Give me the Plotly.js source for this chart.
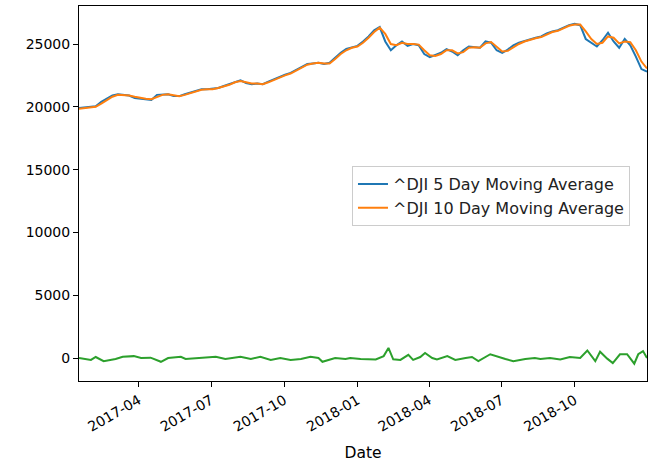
<!DOCTYPE html>
<html>
<head>
<meta charset="utf-8">
<script src="https://cdn.plot.ly/plotly-3.0.1.min.js"></script>
<style>html,body{margin:0;padding:0;background:#fff;}#chart{width:654px;height:466px;}</style>
</head>
<body>
<div id="chart"></div>
<script>
const dates = [
"2017-01-16","2017-01-23","2017-01-30","2017-02-06","2017-02-13","2017-02-20","2017-02-27","2017-03-06","2017-03-13","2017-03-20",
"2017-03-27","2017-04-03","2017-04-10","2017-04-17","2017-04-24","2017-05-01","2017-05-08","2017-05-15","2017-05-22","2017-05-29",
"2017-06-05","2017-06-12","2017-06-19","2017-06-26","2017-07-03","2017-07-10","2017-07-17","2017-07-24","2017-07-31","2017-08-07",
"2017-08-14","2017-08-21","2017-08-28","2017-09-04","2017-09-11","2017-09-18","2017-09-25","2017-10-02","2017-10-09","2017-10-16",
"2017-10-23","2017-10-30","2017-11-06","2017-11-13","2017-11-20","2017-11-27","2017-12-04","2017-12-11","2017-12-18","2017-12-25",
"2018-01-01","2018-01-08","2018-01-15","2018-01-22","2018-01-29","2018-02-05","2018-02-12","2018-02-19","2018-02-26","2018-03-05",
"2018-03-12","2018-03-19","2018-03-26","2018-04-02","2018-04-09","2018-04-16","2018-04-23","2018-04-30","2018-05-07","2018-05-14",
"2018-05-21","2018-05-28","2018-06-04","2018-06-11","2018-06-18","2018-06-25","2018-07-02","2018-07-09","2018-07-16","2018-07-23",
"2018-07-30","2018-08-06","2018-08-13","2018-08-20","2018-08-27","2018-09-03","2018-09-10","2018-09-17","2018-09-24","2018-10-01",
"2018-10-08","2018-10-15","2018-10-22","2018-10-29","2018-11-05","2018-11-12","2018-11-19","2018-11-26","2018-12-03","2018-12-10",
"2018-12-17","2018-12-24","2018-12-31"];

const ma5 = [
19900,19950,20000,20050,20400,20650,20900,21000,20950,20900,
20700,20650,20600,20550,20950,21000,21000,20850,20850,21000,
21150,21300,21400,21400,21450,21500,21650,21800,22000,22100,
21900,21800,21850,21800,22000,22200,22400,22550,22700,22950,
23200,23400,23450,23500,23400,23500,23900,24300,24600,24700,
24850,25200,25600,26100,26350,25200,24500,24900,25200,24850,
25000,24900,24200,23950,24100,24300,24600,24400,24100,24500,
24800,24750,24700,25200,25100,24500,24300,24550,24900,25100,
25250,25400,25500,25600,25850,26000,26100,26300,26500,26600,
26500,25400,25100,24800,25300,25900,25200,24700,25400,24900,
24000,23000,22800];

const ma10 = [
19850,19900,19950,20000,20250,20550,20800,20950,20950,20900,
20800,20700,20650,20600,20800,20950,21000,20900,20850,20950,
21100,21250,21350,21400,21400,21500,21600,21750,21950,22050,
21950,21850,21850,21800,21950,22150,22350,22500,22650,22900,
23100,23350,23450,23500,23450,23450,23800,24200,24500,24700,
24800,25100,25500,25950,26300,25800,25000,24900,25100,25000,
25000,24950,24500,24100,24050,24200,24500,24500,24250,24350,
24700,24750,24700,25050,25150,24750,24400,24450,24750,25000,
25200,25350,25450,25550,25750,25950,26050,26250,26450,26550,
26550,26000,25400,25000,25100,25600,25500,25050,25200,25150,
24500,23600,23050];

const diffDates = [
"2017-01-16","2017-01-31","2017-02-06","2017-02-16","2017-03-03","2017-03-12","2017-03-26","2017-04-04","2017-04-16","2017-04-29",
"2017-05-08","2017-05-24","2017-05-30","2017-06-18","2017-07-07","2017-07-19","2017-08-07","2017-08-20","2017-09-01","2017-09-14",
"2017-09-26","2017-10-09","2017-10-22","2017-11-03","2017-11-13","2017-11-18","2017-12-04","2017-12-17","2017-12-23","2018-01-05",
"2018-01-24","2018-02-03","2018-02-09","2018-02-15","2018-02-24","2018-03-06","2018-03-12","2018-03-21","2018-03-27","2018-04-05",
"2018-04-11","2018-04-24","2018-05-04","2018-05-17","2018-05-25","2018-06-02","2018-06-17","2018-07-06","2018-07-16","2018-07-31",
"2018-08-12","2018-08-19","2018-08-31","2018-09-13","2018-09-25","2018-10-08","2018-10-17","2018-10-27","2018-11-02","2018-11-11",
"2018-11-18","2018-11-27","2018-12-06","2018-12-15","2018-12-20","2018-12-26","2018-12-31"];

const diffVals = [
0,-150,80,-250,-80,100,150,0,30,-300,
0,100,-80,0,100,-80,100,-80,100,-150,
0,-150,-80,100,0,-300,0,-80,0,-80,
-120,150,800,-100,-150,250,-150,80,400,0,
-120,150,-150,0,80,-250,300,-80,-250,-80,
0,-80,0,-120,80,0,600,-250,500,-50,
-400,300,300,-450,300,550,0];

const seriesNames = ["^DJI 5 Day Moving Average","^DJI 10 Day Moving Average"];
const xTickVals = ["2017-04-01","2017-07-01","2017-10-01","2018-01-01","2018-04-01","2018-07-01","2018-10-01"];
const xTickText = ["2017-04","2017-07","2017-10","2018-01","2018-04","2018-07","2018-10"];
const yTickVals = [0,5000,10000,15000,20000,25000];

const traces = [
  {x: dates, y: ma5, name: seriesNames[0], type: "scatter", mode: "lines",
   line: {color: "#1f77b4", width: 2}},
  {x: dates, y: ma10, name: seriesNames[1], type: "scatter", mode: "lines",
   line: {color: "#ff7f0e", width: 2}},
  {x: diffDates, y: diffVals, type: "scatter", mode: "lines", showlegend: false,
   line: {color: "#2ca02c", width: 2}}
];

const tickFont = {family: "DejaVu Sans", size: 14, color: "#000"};
const bigFont = {family: "DejaVu Sans", size: 15.5, color: "#000"};

const layout = {
  width: 654, height: 466,
  margin: {l: 79, r: 7, t: 6, b: 85},
  paper_bgcolor: "#fff", plot_bgcolor: "#fff",
  font: tickFont,
  showlegend: true,
  legend: {x: 0.4806, y: 0.573, xanchor: "left", yanchor: "top",
           bgcolor: "rgba(255,255,255,0.8)", bordercolor: "#cccccc", borderwidth: 1,
           font: {family: "DejaVu Sans", size: 16, color: "#222"}, tracegroupgap: 0},
  xaxis: {
    type: "date", range: [dates[0], dates[dates.length - 1]],
    showgrid: false, zeroline: false,
    showline: true, linecolor: "#000", linewidth: 1, mirror: true,
    ticks: "outside", ticklen: 5, tickcolor: "#000",
    tickvals: xTickVals, ticktext: xTickText, tickangle: -30,
    tickfont: tickFont,
    title: {text: "Date", font: bigFont, standoff: 13}
  },
  yaxis: {
    range: [-1830, 28025],
    showgrid: false, zeroline: false,
    showline: true, linecolor: "#000", linewidth: 1, mirror: true,
    ticks: "outside", ticklen: 5, tickcolor: "#000",
    tickvals: yTickVals, tickformat: "d",
    tickfont: tickFont
  }
};

Plotly.newPlot("chart", traces, layout, {staticPlot: true, displayModeBar: false});
</script>
</body>
</html>
